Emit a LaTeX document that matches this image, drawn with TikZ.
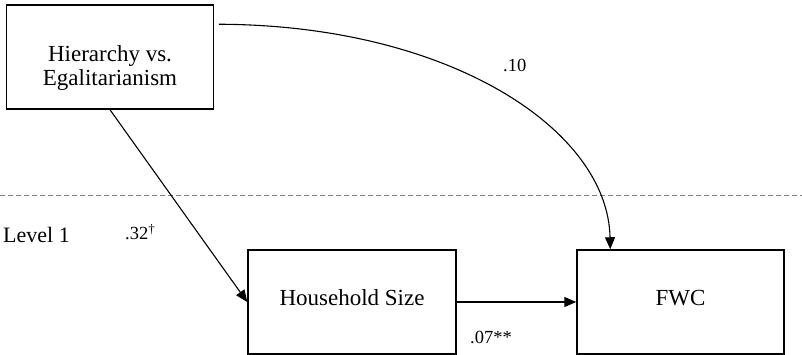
\documentclass[tikz,border=0pt]{standalone}
\usepackage{fontspec}
\setmainfont{Liberation Serif}
\usetikzlibrary{arrows.meta,calc}
\begin{document}
\begin{tikzpicture}[x=1pt,y=-1pt,
  box/.style={draw,line width=1.5pt,rectangle,inner sep=0pt,
    font=\fontsize{23}{24}\selectfont},
  conn/.style={line width=1.1pt,-{Triangle[length=12pt,width=10pt]}},
  lab/.style={inner sep=0pt,anchor=base west,font=\fontsize{18.5}{20}\selectfont},
  divider/.style={gray,line width=1.2pt,dash pattern=on 5pt off 3pt}]
\useasboundingbox (0,0) rectangle (802,355);
\node[box,minimum width=207pt,minimum height=104pt] (top) at (110,57)
  {\raisebox{-12pt}[\height][\depth]{\begin{tabular}{@{}c@{}}Hierarchy vs.\\Egalitarianism\end{tabular}}};
\node[box,minimum width=208pt,minimum height=104pt] (hh) at (352,302)
  {\raisebox{4pt}[\height][\depth]{Household Size}};
\node[box,minimum width=207pt,minimum height=104pt] (fwc) at (680.5,302)
  {\raisebox{4pt}[\height][\depth]{FWC}};
\coordinate (dl) at (0,195.5);
\coordinate (dr) at (802,195.5);
\draw[divider] (dl) -- (dr);
\node[inner sep=0pt,anchor=base west,font=\fontsize{22}{24}\selectfont] (lvl) at (3,243) {Level 1};
\coordinate (cs) at ($(top.north east)+(4.5,20)$);
\coordinate (ce) at ($(fwc.north west)+(34,0)$);
\draw[conn] (top.south) -- (hh.west);
\draw[conn] (hh.east) -- (fwc.west);
\draw[conn] (cs) .. controls (450,25) and (608,130) .. (ce);
\node[lab] (l10) at (503,72) {.10};
\node[lab] (l32) at (125,240) {.32\textsuperscript{†}};
\node[lab] (l07) at (470,343) {.07**};
\end{tikzpicture}
\end{document}
